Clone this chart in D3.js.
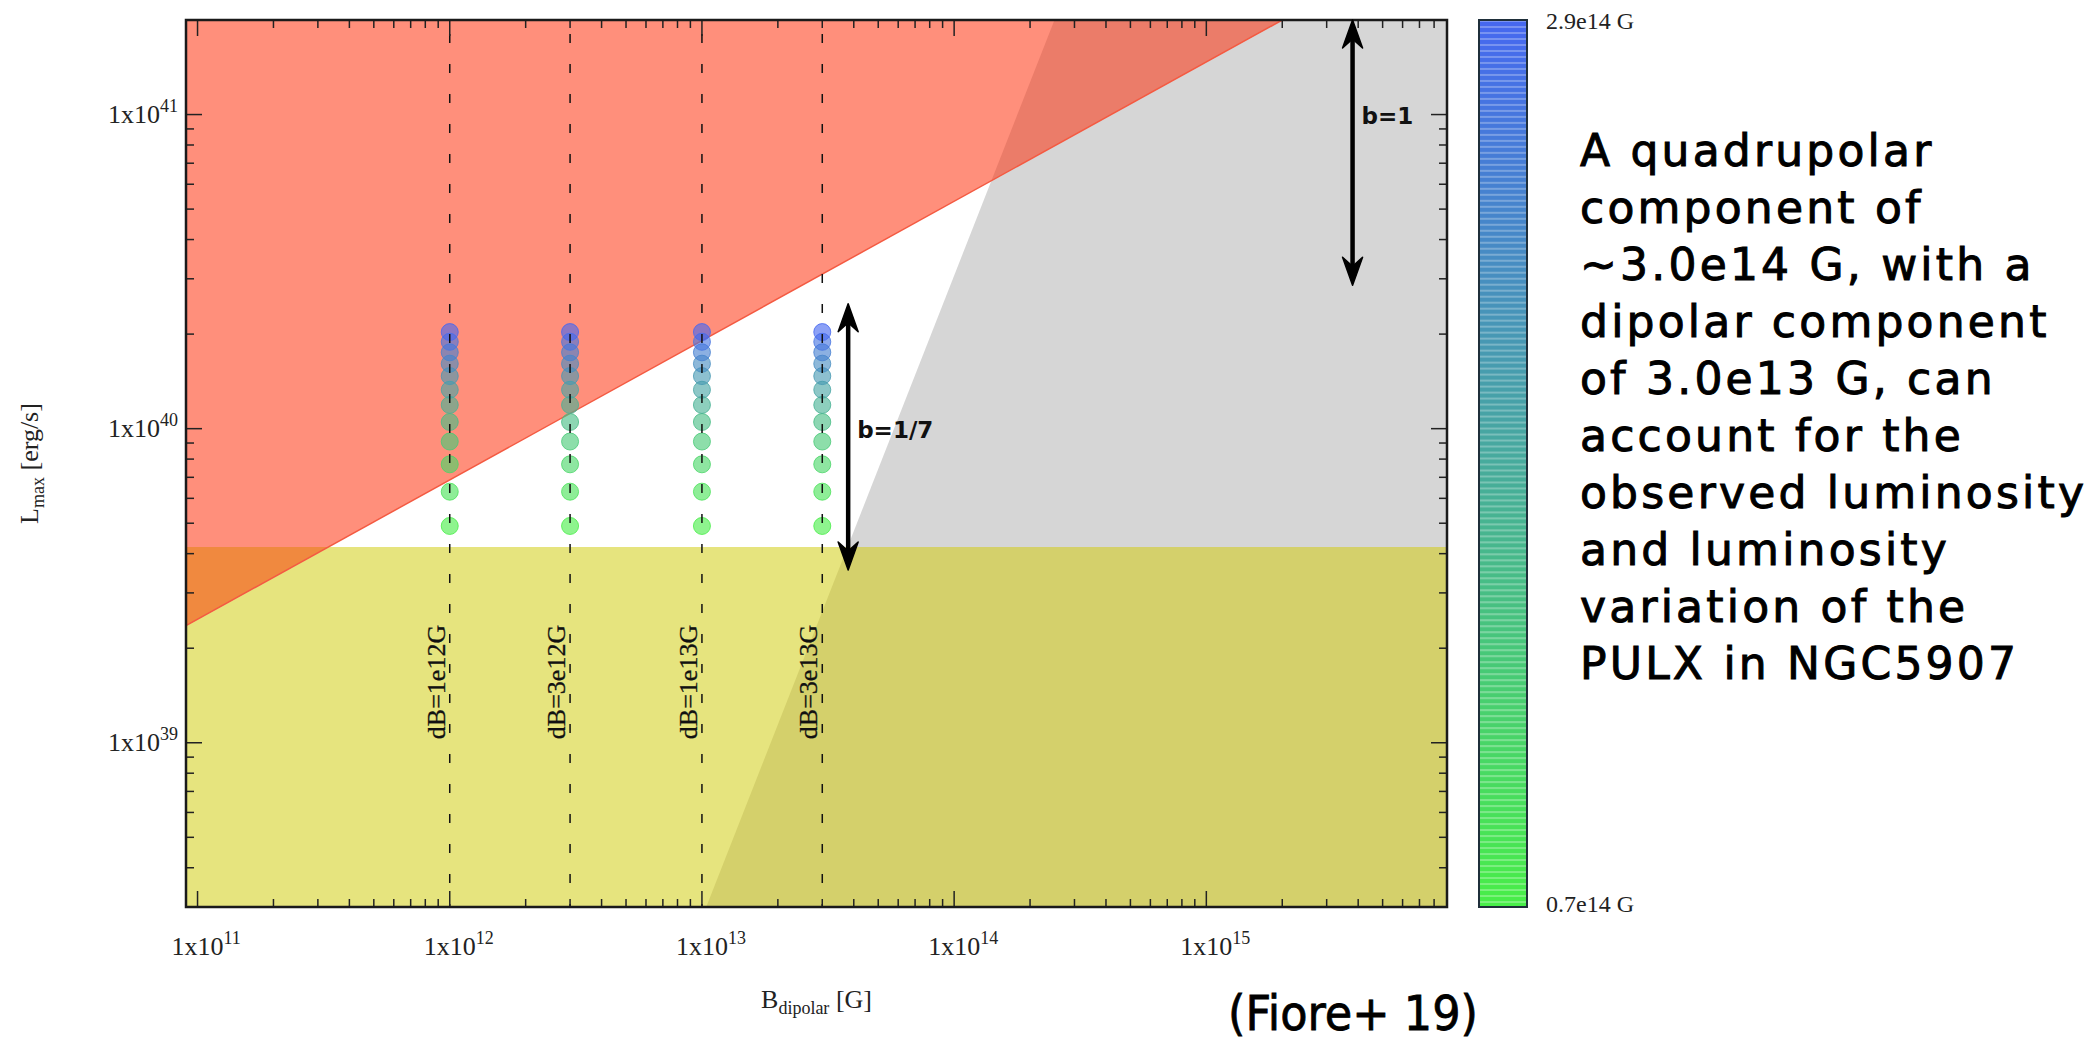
<!DOCTYPE html>
<html><head><meta charset="utf-8">
<script src="https://cdn.jsdelivr.net/npm/d3@7"></script>
<style>body{margin:0;background:#fff} svg{display:block}</style>
</head><body>
<script>
// ---------------- data ----------------
const xDomain = [9e10, 9e15];
const yDomain = [3e38, 2e41];
const xTickExponents = ["11", "12", "13", "14", "15"];
const yTickExponents = ["39", "40", "41"];
const dipolarFields = [1e12, 3e12, 1e13, 3e13];
const dipolarLabels = ["dB=1e12G", "dB=3e12G", "dB=1e13G", "dB=3e13G"];
const quadrupolarFields = [0.7, 0.9, 1.1, 1.3, 1.5, 1.7, 1.9, 2.1, 2.3, 2.5, 2.7, 2.9]; // x1e14 G
const maxLuminosity = [4.9e39, 6.3e39, 7.7e39, 9.1e39, 1.05e40, 1.19e40, 1.33e40, 1.47e40, 1.61e40, 1.75e40, 1.89e40, 2.03e40];
const colorbarRange = [0.7, 2.9];
const colorbarLabels = ["0.7e14 G", "2.9e14 G"];
const redRegion = [[9e10, 2e41], [9e10, 2.36e39], [2e15, 2e41]];
const yellowRegion = [[9e10, 3e38], [9e10, 4.2e39], [9e15, 4.2e39], [9e15, 3e38]];
const grayRegion = [[1.04e13, 3e38], [2.5e14, 2e41], [9e15, 2e41], [9e15, 3e38]];
const arrowB = [3.8e13, 3.8e15];
const arrowLow = [3.55e39, 2.86e40];
const arrowHigh = [2.5e40, 2e41];
const arrowLabels = ["b=1/7", "b=1"];
const arrowLabelL = [1e40, 1e41];
const annotationLines = ["A quadrupolar", "component of", "~3.0e14 G, with a", "dipolar component",
  "of 3.0e13 G, can", "account for the", "observed luminosity", "and luminosity",
  "variation of the", "PULX in NGC5907"];
const citation = "(Fiore+ 19)";

// ---------------- layout ----------------
const W = 2092, H = 1045;
const L = 186, T = 20, R = 1447, B = 907;
const serif = "'Liberation Serif','Times New Roman',serif";
const sans = "'DejaVu Sans',sans-serif";

const svg = d3.select("body").append("svg").attr("width", W).attr("height", H);
const x = d3.scaleLog().domain(xDomain).range([L, R]);
const y = d3.scaleLog().domain(yDomain).range([B, T]);
const poly = pts => "M" + pts.map(p => [x(p[0]), y(p[1])].join(",")).join("L") + "Z";

const defs = svg.append("defs");
defs.append("clipPath").attr("id", "clipGray").append("path").attr("d", poly(grayRegion));
defs.append("clipPath").attr("id", "clipYellow").append("path").attr("d", poly(yellowRegion));
defs.append("clipPath").attr("id", "clipPlot").append("rect").attr("x", L).attr("y", T).attr("width", R - L).attr("height", B - T);

const g = svg.append("g").attr("clip-path", "url(#clipPlot)");
g.append("path").attr("d", poly(grayRegion)).attr("fill", "#d6d6d6");
g.append("path").attr("d", poly(yellowRegion)).attr("fill", "#e6e47e");
g.append("path").attr("d", poly(yellowRegion)).attr("fill", "#d4d06b").attr("clip-path", "url(#clipGray)");
g.append("path").attr("d", poly(redRegion)).attr("fill", "#ff8f7b");
g.append("path").attr("d", poly(redRegion)).attr("fill", "#eb7c69").attr("clip-path", "url(#clipGray)");
g.append("path").attr("d", poly(redRegion)).attr("fill", "#f0893f").attr("clip-path", "url(#clipYellow)");
g.append("line").attr("x1", x(redRegion[1][0])).attr("y1", y(redRegion[1][1]))
  .attr("x2", x(redRegion[2][0])).attr("y2", y(redRegion[2][1]))
  .attr("stroke", "#f45a42").attr("stroke-width", 1.5);

// points
const color = d3.scaleLinear().domain(colorbarRange).range(["#48ee48", "#4668f0"]).interpolate(d3.interpolateRgb);
dipolarFields.forEach(bd => {
  g.selectAll(null).data(quadrupolarFields).enter().append("circle")
    .attr("cx", x(bd)).attr("cy", (q, i) => y(maxLuminosity[i])).attr("r", 8.5)
    .attr("fill", q => color(q)).attr("fill-opacity", 0.62)
    .attr("stroke", q => color(q)).attr("stroke-opacity", 0.8).attr("stroke-width", 1);
});

// dashed lines
g.selectAll(null).data(dipolarFields).enter().append("line")
  .attr("x1", d => x(d)).attr("x2", d => x(d)).attr("y1", T + 14).attr("y2", B)
  .attr("stroke", "#111").attr("stroke-width", 1.5).attr("stroke-dasharray", "9,21");
svg.selectAll(null).data(dipolarFields).enter().append("text")
  .attr("transform", (d, i) => `translate(${x(d) - 5},682) rotate(-90)`)
  .attr("text-anchor", "middle").attr("font-family", serif).attr("font-size", 26)
  .attr("fill", "#111").attr("stroke", "#111").attr("stroke-width", 0.3).text((d, i) => dipolarLabels[i]);

// ticks
const tickColor = "#222";
const xt = x.ticks().filter(v => v > xDomain[0] * 1.001 && v < xDomain[1] * 0.999);
const yt = y.ticks().filter(v => v > yDomain[0] * 1.001 && v < yDomain[1] * 0.999);
const isMajor = v => Math.abs(Math.log10(v) - Math.round(Math.log10(v))) < 1e-6;
const ax = svg.append("g").attr("stroke", tickColor).attr("stroke-width", 1.5);
xt.forEach(v => {
  const len = isMajor(v) ? 16 : 8;
  ax.append("line").attr("x1", x(v)).attr("x2", x(v)).attr("y1", B).attr("y2", B - len);
  ax.append("line").attr("x1", x(v)).attr("x2", x(v)).attr("y1", T).attr("y2", T + len);
});
yt.forEach(v => {
  const len = isMajor(v) ? 16 : 8;
  ax.append("line").attr("y1", y(v)).attr("y2", y(v)).attr("x1", L).attr("x2", L + len);
  ax.append("line").attr("y1", y(v)).attr("y2", y(v)).attr("x1", R).attr("x2", R - len);
});
svg.append("rect").attr("x", L).attr("y", T).attr("width", R - L).attr("height", B - T)
  .attr("fill", "none").attr("stroke", "#1a1a1a").attr("stroke-width", 2.5);

// tick labels
const xMaj = xt.filter(isMajor);
xMaj.forEach((v, i) => {
  const t = svg.append("text").attr("x", x(v)).attr("y", 955).attr("text-anchor", "middle")
    .attr("font-family", serif).attr("font-size", 26).attr("fill", "#222").text("1x10");
  const w = t.node().getComputedTextLength();
  svg.append("text").attr("x", x(v) + w / 2).attr("y", 944).attr("font-family", serif)
    .attr("font-size", 18).attr("fill", "#222").text(xTickExponents[i]);
});
const yMaj = yt.filter(isMajor);
yMaj.forEach((v, i) => {
  const t = svg.append("text").attr("x", 178).attr("y", y(v) + 8).attr("text-anchor", "end")
    .attr("font-family", serif).attr("font-size", 26).attr("fill", "#222");
  t.append("tspan").text("1x10");
  t.append("tspan").attr("dy", -11).attr("font-size", 18).text(yTickExponents[i]);
});

// axis titles
const yt1 = svg.append("text").attr("transform", `translate(38,${(T + B) / 2}) rotate(-90)`)
  .attr("text-anchor", "middle").attr("font-family", serif).attr("font-size", 26).attr("fill", "#222");
yt1.append("tspan").text("L");
yt1.append("tspan").attr("dy", 6).attr("font-size", 18).text("max");
yt1.append("tspan").attr("dy", -6).text(" [erg/s]");
const xt1 = svg.append("text").attr("x", (L + R) / 2).attr("y", 1008).attr("text-anchor", "middle")
  .attr("font-family", serif).attr("font-size", 26).attr("fill", "#222");
xt1.append("tspan").text("B");
xt1.append("tspan").attr("dy", 6).attr("font-size", 18).text("dipolar");
xt1.append("tspan").attr("dy", -6).text(" [G]");

// arrows
function arrowHead(px, py, dir) {
  const s = dir; // -1 up, +1 down
  return `M${px},${py} L${px - 10},${py - s * 28} L${px},${py - s * 19} L${px + 10},${py - s * 28} Z`;
}
arrowB.forEach((bv, i) => {
  const ax0 = x(bv), ylo = y(arrowLow[i]), yhi = y(arrowHigh[i]);
  svg.append("line").attr("x1", ax0).attr("x2", ax0).attr("y1", yhi + 10).attr("y2", ylo - 10)
    .attr("stroke", "#000").attr("stroke-width", 4.5);
  svg.append("path").attr("d", arrowHead(ax0, yhi, -1)).attr("fill", "#000").attr("stroke", "#000").attr("stroke-width", 1.5).attr("stroke-linejoin", "round");
  svg.append("path").attr("d", arrowHead(ax0, ylo, 1)).attr("fill", "#000").attr("stroke", "#000").attr("stroke-width", 1.5).attr("stroke-linejoin", "round");
  svg.append("text").attr("x", ax0 + 9).attr("y", y(arrowLabelL[i]) + 9)
    .attr("font-family", sans).attr("font-weight", "bold").attr("font-size", 23).attr("fill", "#111")
    .text(arrowLabels[i]);
});

// colorbar
const cbL = 1479, cbR = 1527;
const cy = d3.scaleLinear().domain(colorbarRange).range([B, T]);
const nb = Math.round((B - T) / 6);
const bands = d3.range(nb);
const cb = svg.append("g");
cb.selectAll(null).data(bands).enter().append("rect")
  .attr("x", cbL).attr("width", cbR - cbL)
  .attr("y", i => B - (i + 1) * (B - T) / nb).attr("height", (B - T) / nb + 0.5)
  .attr("fill", i => color(cy.invert(B - (i + 0.5) * (B - T) / nb)));
cb.selectAll(null).data(bands).enter().append("rect")
  .attr("x", cbL).attr("width", cbR - cbL)
  .attr("y", i => B - (i + 1) * (B - T) / nb).attr("height", 2)
  .attr("fill", "#fff").attr("fill-opacity", 0.28);
svg.append("rect").attr("x", cbL).attr("y", T).attr("width", cbR - cbL).attr("height", B - T)
  .attr("fill", "none").attr("stroke", "#1f2f3a").attr("stroke-width", 2);
svg.append("text").attr("x", 1546).attr("y", cy(colorbarRange[1]) + 9).attr("font-family", serif)
  .attr("font-size", 24).attr("fill", "#222").text(colorbarLabels[1]);
svg.append("text").attr("x", 1546).attr("y", cy(colorbarRange[0]) + 5).attr("font-family", serif)
  .attr("font-size", 24).attr("fill", "#222").text(colorbarLabels[0]);

// annotation
svg.append("g").selectAll("text").data(annotationLines).enter().append("text")
  .attr("x", 1580).attr("y", (d, i) => 166 + i * 57)
  .attr("font-family", sans).attr("font-size", 44).attr("letter-spacing", 3.2).attr("fill", "#000")
  .attr("stroke", "#000").attr("stroke-width", 1)
  .text(d => d);
svg.append("text").attr("x", 1228).attr("y", 1030).attr("font-family", sans).attr("font-size", 48)
  .attr("fill", "#000").attr("stroke", "#000").attr("stroke-width", 0.8)
  .attr("textLength", 250).attr("lengthAdjust", "spacingAndGlyphs").text(citation);
</script>
</body></html>
